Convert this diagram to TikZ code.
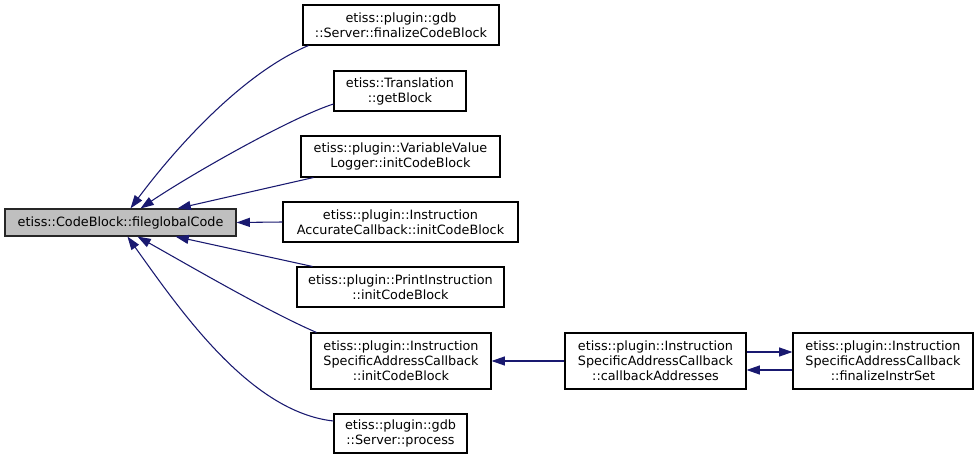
\documentclass[tikz,border=0pt]{standalone}
\usepackage{fontspec}
\setmainfont{DejaVu Sans}
\usetikzlibrary{arrows.meta,calc}
\definecolor{edgeblue}{RGB}{25,25,112}
\tikzset{
  box/.style={draw=black,line width=0.8pt,fill=white,align=center,inner sep=0pt,
    font=\fontsize{9.6pt}{11.25pt}\selectfont},
  mainbox/.style={box,fill=black!25,draw=black!85},
  edge/.style={draw=edgeblue,line width=0.8pt,-{Triangle[length=10pt,width=6.75pt]}}
}
\begin{document}
\begin{tikzpicture}[x=0.75pt,y=-0.75pt]
\useasboundingbox[fill=white] (0,0) rectangle (979,460);
\node[mainbox,minimum width=173.25pt,minimum height=20.25pt] (main) at (120.5,222.5) {etiss::CodeBlock::fileglobalCode};
\node[box,minimum width=147pt,minimum height=30pt] (fcb) at (401,25) {etiss::plugin::gdb\\::Server::finalizeCodeBlock};
\node[box,minimum width=99pt,minimum height=30pt] (gb) at (400,91) {etiss::Translation\\::getBlock};
\node[box,minimum width=149.25pt,minimum height=30.75pt] (vvl) at (400.5,156.5) {etiss::plugin::VariableValue\\Logger::initCodeBlock};
\node[box,minimum width=176.25pt,minimum height=30pt] (iac) at (400.5,222) {etiss::plugin::Instruction\\AccurateCallback::initCodeBlock};
\node[box,minimum width=155.25pt,minimum height=30pt] (pi) at (400.5,287) {etiss::plugin::PrintInstruction\\::initCodeBlock};
\node[box,minimum width=135pt,minimum height=42pt] (isac) at (401,361) {etiss::plugin::Instruction\\SpecificAddressCallback\\::initCodeBlock};
\node[box,minimum width=99.75pt,minimum height=29.25pt] (proc) at (400.5,433.5) {etiss::plugin::gdb\\::Server::process};
\node[box,minimum width=135.75pt,minimum height=42pt] (cba) at (655.5,361) {etiss::plugin::Instruction\\SpecificAddressCallback\\::callbackAddresses};
\node[box,minimum width=135pt,minimum height=42pt] (fis) at (883,361) {etiss::plugin::Instruction\\SpecificAddressCallback\\::finalizeInstrSet};

\draw[edge] ($(fcb.south west)+(6,0)$) .. controls (239,75) and (171,154) .. ($(main.north west)+(126,0)$);
\draw[edge] ($(gb.west)+(0,13)$) .. controls (290,118) and (190,175) .. ($(main.north west)+(136,0)$);
\draw[edge] ($(vvl.south west)+(13,0)$) -- ($(main.north west)+(173,0)$);
\draw[edge] (iac.west) -- (main.east);
\draw[edge] ($(pi.north west)+(16,0)$) -- ($(main.south west)+(171,0)$);
\draw[edge] ($(isac.north west)+(6,0)$) .. controls (267,311) and (190,266) .. ($(main.south west)+(133,0)$);
\draw[edge] ($(proc.west)+(0,-12.5)$) .. controls (250,412) and (180,310) .. ($(main.south west)+(123,0)$);
\draw[edge] (cba.west) -- (isac.east);
\draw[edge] ($(cba.east)+(0,-9)$) -- ($(fis.west)+(0,-9)$);
\draw[edge] ($(fis.west)+(0,9)$) -- ($(cba.east)+(0,9)$);
\end{tikzpicture}
\end{document}
